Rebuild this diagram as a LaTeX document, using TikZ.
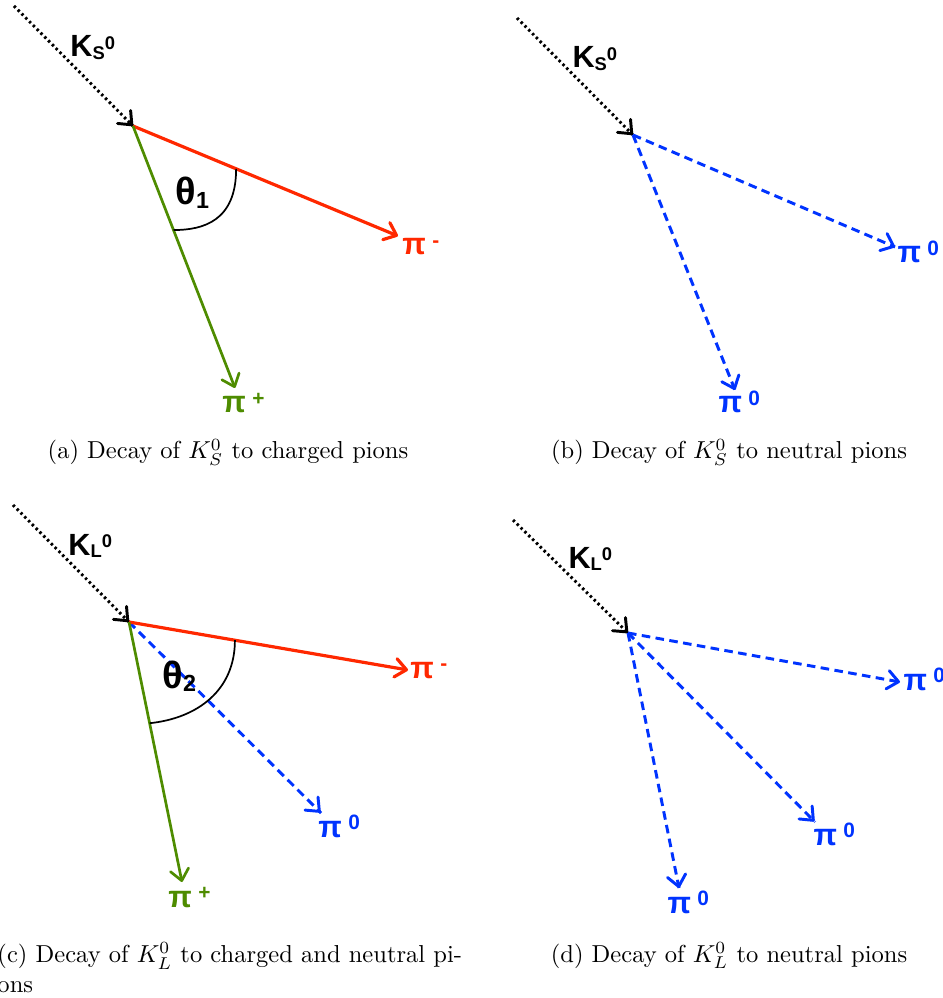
\documentclass[tikz,border=0pt]{standalone}
\usepackage{fontspec}
\usepackage{tikz}
\usetikzlibrary{arrows.meta, calc, decorations.markings}
\newfontfamily\lblfont{Liberation Sans}
\definecolor{pired}{RGB}{255,40,0}
\definecolor{pigreen}{RGB}{78,140,0}
\definecolor{piblue}{RGB}{0,51,255}
\newcommand{\kaon}[1]{K\raisebox{-1.2pt}{\fontsize{7.5}{8}\selectfont #1}\raisebox{2.9pt}{\fontsize{7.5}{8}\selectfont 0}}
\newcommand{\pion}[1]{π\hspace{2.6pt}\raisebox{3.2pt}{\fontsize{8.5}{9}\selectfont #1}}
\newcommand{\thlabel}[1]{θ\raisebox{-1.4pt}{\fontsize{9.5}{10}\selectfont #1}}
\tikzset{
  track tip/.style={
    -{Straight Barb[length=4.5pt,width=7.5pt,round]}
  },
  solid tip/.style={
    postaction={decorate, decoration={markings,
      mark=at position 1 with {\pgfsetdash{}{0pt}\arrow{Straight Barb[length=4.5pt,width=7.5pt,round]}}}}
  },
  kaon track/.style={
    solid tip,
    line width=1.2pt,
    dash pattern=on 1pt off 1.2pt
  },
  minus track/.style={
    track tip,
    line width=1.3pt,
    color=pired
  },
  plus track/.style={
    track tip,
    line width=1.1pt,
    color=pigreen
  },
  neutral track/.style={
    solid tip,
    line width=1.2pt,
    color=piblue,
    dash pattern=on 3.5pt off 2.2pt
  },
  angle curve/.style={
    draw=black,
    line width=0.7pt
  },
  kaon label/.style={
    inner sep=0pt,
    anchor=base west,
    font=\lblfont\bfseries\fontsize{12.5}{14}\selectfont
  },
  pion label/.style={
    inner sep=0pt,
    anchor=base west,
    font=\lblfont\bfseries\fontsize{12.5}{14}\selectfont
  },
  angle label/.style={
    inner sep=0pt,
    anchor=base west,
    font=\lblfont\bfseries\fontsize{15.5}{17}\selectfont
  },
  caption/.style={
    inner sep=0pt,
    anchor=base
  }
}

\begin{document}
\begin{tikzpicture}[x=0.01433cm, y=-0.01433cm]
    \useasboundingbox (0,0) rectangle (942,998);

    % (a) K_S^0 -> pi+ pi-
    \coordinate (ka) at (14,6);
    \coordinate (va) at (133,126);
    \coordinate (ma) at (398,236);
    \coordinate (pa) at (235,388);
    \draw[kaon track] (ka) -- (va);
    \draw[minus track] (va) -- (ma);
    \draw[plus track] (va) -- (pa);
    \draw[angle curve] ($(va)!1.6cm!(ma)$) .. controls +(0,52) and +(30,0) .. ($(va)!1.6cm!(pa)$);
    \node[kaon label] (lka) at (70,57) {\kaon{S}};
    \node[pion label, pired] (lma) at (402,255) {\pion{-}};
    \node[pion label, pigreen] (lpa) at (222,413) {\pion{+}};
    \node[angle label] (tha) at (175,205) {\thlabel{1}};
    \node[caption] (capa) at (228,459) {(a) Decay of $K_S^0$ to charged pions};

    % (b) K_S^0 -> pi0 pi0
    \coordinate (kb) at (517,18);
    \coordinate (vb) at (633,135);
    \coordinate (nb1) at (895,247);
    \coordinate (nb2) at (735,390);
    \draw[kaon track] (kb) -- (vb);
    \draw[neutral track] (vb) -- (nb1);
    \draw[neutral track] (vb) -- (nb2);
    \node[kaon label] (lkb) at (572,68) {\kaon{S}};
    \node[pion label, piblue] (lnb1) at (897,263) {\pion{0}};
    \node[pion label, piblue] (lnb2) at (718,413) {\pion{0}};
    \node[caption] (capb) at (729,459) {(b) Decay of $K_S^0$ to neutral pions};

    % (c) K_L^0 -> pi+ pi- pi0
    \coordinate (kc) at (13,505);
    \coordinate (vc) at (129,622);
    \coordinate (mc) at (408,670);
    \coordinate (nc) at (321,813);
    \coordinate (pc) at (182,882);
    \draw[kaon track] (kc) -- (vc);
    \draw[neutral track] (vc) -- (nc);
    \draw[minus track] (vc) -- (mc);
    \draw[plus track] (vc) -- (pc);
    \draw[angle curve] ($(vc)!1.54cm!(mc)$) .. controls +(0,50) and +(48,-5) .. ($(vc)!1.48cm!(pc)$);
    \node[kaon label] (lkc) at (68,555) {\kaon{L}};
    \node[pion label, pired] (lmc) at (410,678) {\pion{-}};
    \node[pion label, piblue] (lnc) at (318,837) {\pion{0}};
    \node[pion label, pigreen] (lpc) at (168,907) {\pion{+}};
    \node[angle label] (thc) at (162,688) {\thlabel{2}};
    \node[caption, anchor=base west, align=left] (capc) at (-3,992) {(c) Decay of $K_L^0$ to charged and neutral pi-\\ons};

    % (d) K_L^0 -> pi0 pi0 pi0
    \coordinate (kd) at (513,520);
    \coordinate (vd) at (628,633);
    \coordinate (nd1) at (900,682);
    \coordinate (nd2) at (815,822);
    \coordinate (nd3) at (679,888);
    \draw[kaon track] (kd) -- (vd);
    \draw[neutral track] (vd) -- (nd1);
    \draw[neutral track] (vd) -- (nd2);
    \draw[neutral track] (vd) -- (nd3);
    \node[kaon label] (lkd) at (568,568) {\kaon{L}};
    \node[pion label, piblue] (lnd1) at (903,690) {\pion{0}};
    \node[pion label, piblue] (lnd2) at (813,845) {\pion{0}};
    \node[pion label, piblue] (lnd3) at (667,913) {\pion{0}};
    \node[caption] (capd) at (729,962) {(d) Decay of $K_L^0$ to neutral pions};

\end{tikzpicture}
\end{document}
